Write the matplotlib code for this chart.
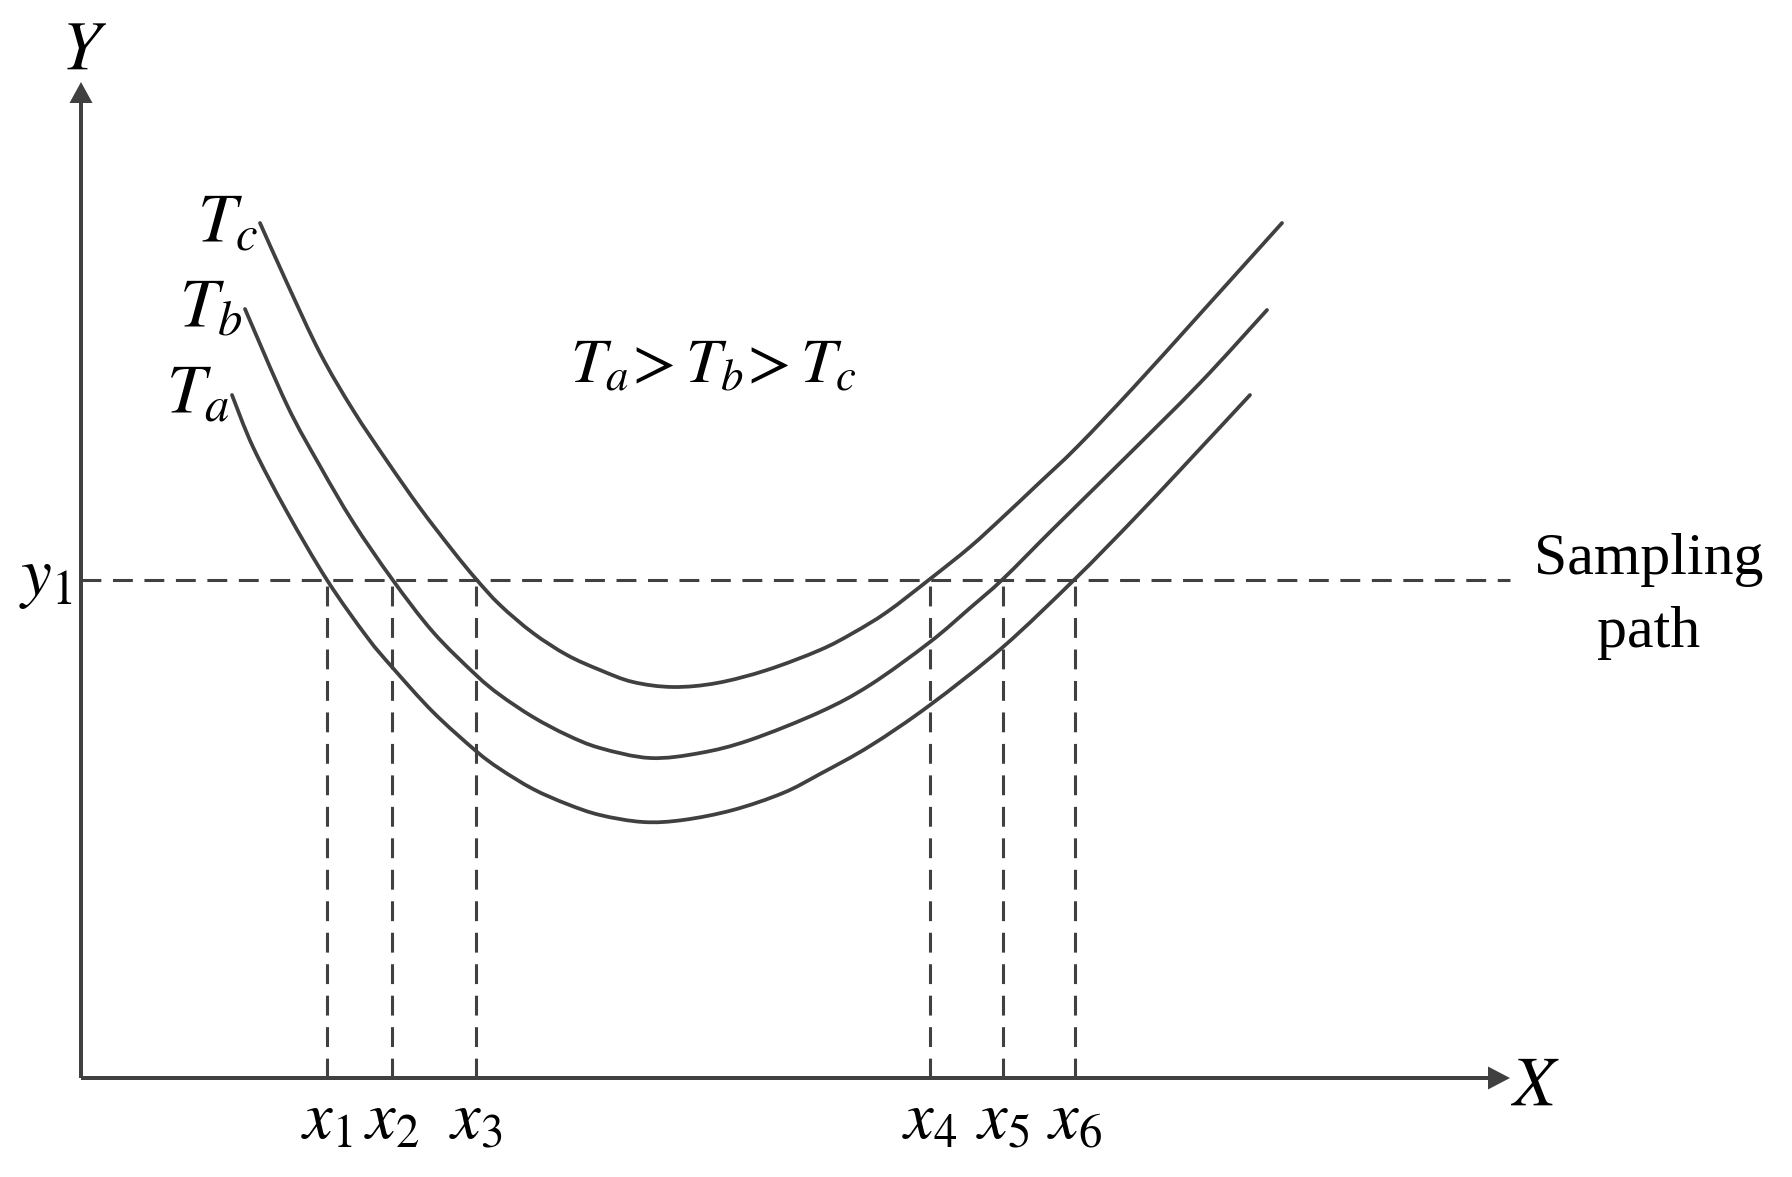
import matplotlib
matplotlib.use("Agg")
import matplotlib.pyplot as plt
import numpy as np
from matplotlib.path import Path
from matplotlib.patches import PathPatch

plt.rcParams['font.family'] = 'serif'
plt.rcParams['font.serif'] = ['Liberation Serif', 'DejaVu Serif']
plt.rcParams['mathtext.fontset'] = 'stix'

# schematic units (origin at the axes corner)
ta_x = [151, 172, 206, 246, 286, 311, 352, 395, 419, 452, 486, 519, 562, 602, 652, 702, 739, 789, 849, 922, 994, 1052, 1102, 1169]
ta_y = [683, 631, 566, 498, 441, 411, 366, 327, 309, 289, 274, 263, 256, 258, 268, 285, 304, 332, 373, 431, 499, 558, 611, 683]

tb_x = [164, 206, 239, 272, 311, 352, 395, 419, 452, 486, 519, 569, 619, 669, 739, 789, 849, 889, 922, 972, 1039, 1119, 1186]
tb_y = [769, 673, 612, 556, 499, 446, 403, 383, 361, 343, 330, 320, 325, 338, 366, 393, 436, 470, 499, 549, 615, 695, 768]

tc_x = [179, 206, 239, 272, 306, 339, 372, 395, 419, 452, 486, 519, 552, 592, 636, 686, 739, 772, 806, 849, 889, 922, 956, 996, 1052, 1119, 1201]
tc_y = [855, 795, 725, 668, 617, 570, 527, 499, 473, 445, 423, 408, 396, 391, 395, 408, 428, 445, 466, 499, 531, 561, 593, 631, 690, 764, 855]

curve_labels = [r'$T_a$', r'$T_b$', r'$T_c$']
curve_label_x = [149, 162, 177]
curve_label_y = [666, 752, 837]

y1 = 498
x_marks = [246, 311, 395, 849, 922, 994]
x_mark_labels = [r'$x_1$', r'$x_2$', r'$x_3$', r'$x_4$', r'$x_5$', r'$x_6$']

x_end = 1429
y_end = 996

line_color = '#404040'


def smooth_path(xs, ys):
    # Catmull-Rom through the read points, drawn as cubic Bezier segments
    p = np.column_stack([xs, ys]).astype(float)
    ext = np.vstack([p[0], p, p[-1]])
    verts = [p[0]]
    codes = [Path.MOVETO]
    for i in range(1, len(ext) - 2):
        c1 = ext[i] + (ext[i + 1] - ext[i - 1]) / 6
        c2 = ext[i + 1] - (ext[i + 2] - ext[i]) / 6
        verts += [c1, c2, ext[i + 1]]
        codes += [Path.CURVE4] * 3
    return Path(verts, codes)


fig = plt.figure(figsize=(17.92, 11.77), dpi=100)
ax = fig.add_axes([0, 0, 1, 1])
ax.set_xlim(-81, 1711)
ax.set_ylim(-99, 1078)
ax.axis('off')

# curves
for xs, ys in [(ta_x, ta_y), (tb_x, tb_y), (tc_x, tc_y)]:
    ax.add_patch(PathPatch(smooth_path(xs, ys), fill=False, edgecolor=line_color,
                           lw=2.7, capstyle='round', joinstyle='round'))

for lab, lx, ly in zip(curve_labels, curve_label_x, curve_label_y):
    ax.text(lx, ly, lab, fontsize=50, ha='right', va='baseline', color='black')

# sampling path and projections
ax.plot([0, x_end], [y1, y1], color=line_color, lw=2.2, dashes=(6.5, 3.8))
for xm in x_marks:
    ax.plot([xm, xm], [0, y1], color=line_color, lw=2.2, dashes=(6.5, 3.8))

for xm, lab in zip(x_marks, x_mark_labels):
    ax.text(xm, -60, lab, fontsize=48, ha='center', va='baseline', color='black')

ax.text(-8, 483, r'$y_1$', fontsize=50, ha='right', va='baseline', color='black')

# axes with arrows
ax.arrow(0, 0, x_end, 0, width=4, head_width=23, head_length=22,
         length_includes_head=True, color=line_color, lw=0)
ax.arrow(0, 0, 0, y_end, width=4, head_width=23, head_length=21,
         length_includes_head=True, color=line_color, lw=0)
ax.text(x_end, -27, r'$X$', fontsize=50, ha='left', va='baseline', color='black')
ax.text(3, 1009, r'$Y$', fontsize=50, ha='center', va='baseline', color='black')

ax.text(489, 696, r'$T_a\!>T_b\!>T_c$', fontsize=46, ha='left', va='baseline', color='black')

ax.text(1568, 504, 'Sampling', fontsize=43, ha='center', va='baseline', color='black',
        family='Liberation Serif')
ax.text(1568, 431, 'path', fontsize=43, ha='center', va='baseline', color='black',
        family='Liberation Serif')

fig.savefig('out.png', dpi=100)
